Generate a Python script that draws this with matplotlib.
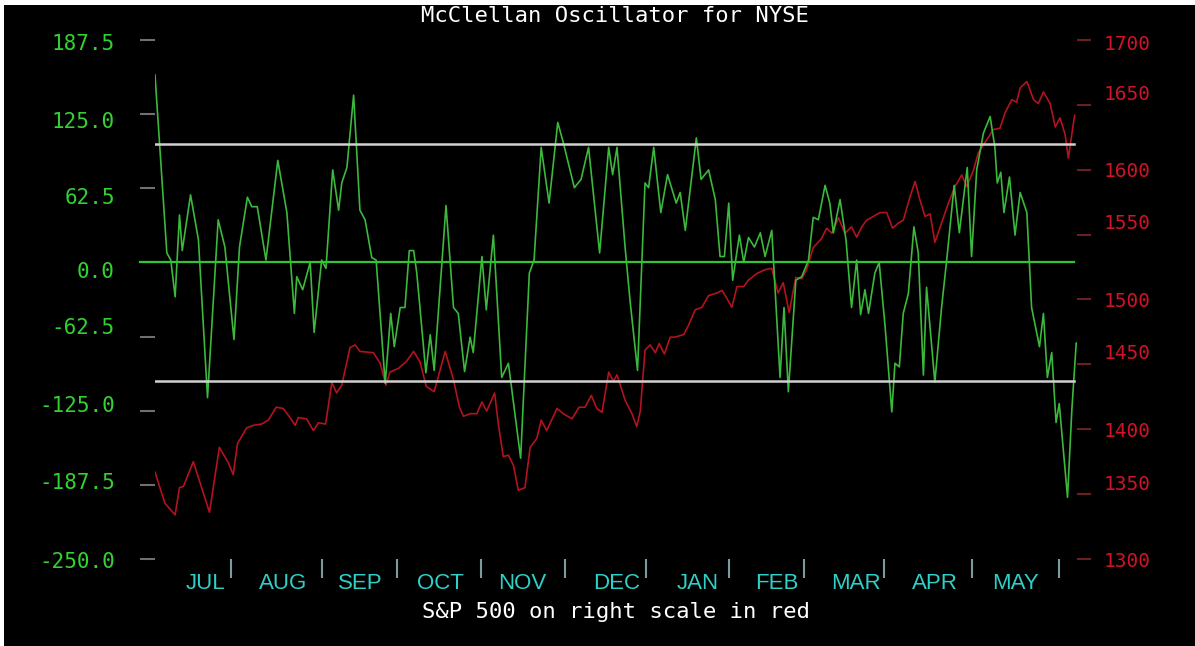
import numpy as np
import matplotlib.pyplot as plt
from matplotlib.patches import Rectangle
from matplotlib.transforms import ScaledTranslation

# x = trading session counted from the first one shown (early July 2012)
osc_day = [0, 3.0, 4.0, 5.1, 6.2, 6.9, 9.0, 11.0, 13.3, 16.0,
           17.7, 20.0, 21.4, 23.4, 24.5, 25.9, 28.1, 31.1, 33.4, 35.3,
           35.9, 37.4, 39.3, 40.3, 42.2, 43.3, 45.0, 46.5, 47.3, 48.6,
           50.3, 51.9, 53.2, 54.9, 56.0, 58.3, 59.7, 60.6, 62.1, 63.3,
           64.4, 65.5, 66.3, 68.6, 69.7, 70.7, 73.7, 75.6, 76.8, 78.4,
           79.8, 80.6, 82.8, 83.9, 85.7, 87.8, 89.5, 92.6, 94.8, 96.0,
           97.8, 99.8, 102.0, 103.4, 106.2, 107.9, 109.8, 112.6, 114.9, 115.9,
           117.0, 119.1, 120.3, 122.2, 124.1, 125.0, 126.3, 128.1, 129.8, 132.0,
           133.0, 134.3, 137.1, 138.3, 140.2, 141.9, 143.1, 144.2, 145.3, 146.3,
           148.0, 149.1, 150.3, 151.8, 153.3, 154.5, 156.2, 158.3, 159.3, 160.4,
           162.3, 163.8, 165.5, 166.7, 168.0, 169.7, 170.9, 171.8, 173.5, 175.0,
           176.4, 177.7, 178.7, 179.8, 180.7, 182.3, 183.4, 184.9, 186.6, 187.4,
           188.5, 189.5, 190.8, 192.2, 193.3, 194.6, 195.4, 197.5, 199.2, 200.5,
           202.4, 203.7, 205.7, 206.8, 208.1, 209.8, 211.5, 212.7, 213.3, 214.2,
           215.0, 216.4, 217.8, 219.1, 220.8, 222.0, 224.0, 225.0, 226.0, 227.1,
           228.2, 229.0, 231.1, 232.2, 233.3]
osc_val = [158, 8, 2, -29, 40, 10, 57, 19, -114, 36,
           13, -65, 13, 55, 47, 47, 2, 86, 42, -43,
           -12, -23, 0, -59, 2, -5, 78, 44, 67, 80,
           141, 44, 36, 4, 2, -102, -43, -71, -38, -38,
           10, 10, -9, -93, -61, -91, 48, -38, -43, -92,
           -63, -76, 5, -40, 23, -97, -85, -165, -9, 2,
           97, 50, 118, 101, 63, 70, 97, 8, 97, 74,
           97, 11, -32, -91, 67, 63, 97, 42, 74, 50,
           59, 27, 105, 70, 78, 53, 5, 5, 50, -15,
           23, 0, 21, 13, 25, 5, 27, -97, -38, -109,
           -15, -12, 2, 38, 36, 65, 50, 25, 53, 19,
           -38, 2, -44, -23, -43, -9, 0, -54, -126, -85,
           -88, -43, -26, 30, 8, -95, -21, -101, -38, 2,
           65, 25, 80, 5, 78, 109, 123, 97, 67, 76,
           42, 72, 23, 59, 42, -38, -71, -43, -97, -76,
           -135, -119, -198, -124, -68]

spx_day = [0, 2.5, 5.1, 6.2, 7.2, 9.7, 11.8, 13.8, 16.3, 18.6,
           19.8, 20.9, 23.2, 24.9, 27.0, 28.7, 30.7, 32.5, 34.2, 35.5,
           36.3, 38.4, 40.1, 41.4, 43.2, 44.8, 46.0, 47.3, 49.4, 50.7,
           51.9, 55.3, 57.0, 58.5, 59.5, 61.7, 63.6, 65.5, 67.1, 68.7,
           70.7, 73.5, 75.6, 77.1, 78.1, 79.8, 81.5, 82.8, 84.0, 86.0,
           87.0, 88.2, 89.5, 90.8, 92.0, 93.7, 95.0, 96.7, 97.8, 99.2,
           101.8, 103.4, 105.6, 107.4, 108.9, 110.5, 111.9, 113.2, 114.9, 116.1,
           117.0, 119.1, 120.8, 122.0, 122.9, 124.1, 125.4, 126.7, 127.7, 129.0,
           130.5, 131.7, 133.9, 135.1, 136.8, 138.5, 140.2, 142.3, 143.6, 144.8,
           146.1, 147.4, 149.1, 150.3, 152.4, 154.5, 156.2, 157.8, 159.1, 160.6,
           162.3, 163.8, 165.0, 166.7, 168.8, 170.1, 171.4, 173.1, 174.7, 176.4,
           177.7, 179.0, 180.2, 181.9, 183.6, 185.3, 186.8, 188.3, 189.5, 191.2,
           192.5, 193.7, 195.0, 196.3, 197.5, 199.2, 200.9, 202.6, 204.3, 205.6,
           207.3, 208.5, 210.6, 212.3, 214.0, 215.3, 217.0, 218.2, 219.1, 220.8,
           222.5, 223.7, 225.0, 226.7, 228.0, 229.2, 230.5, 231.3, 232.9]
spx_val = [1367, 1343, 1334, 1355, 1356, 1375, 1355, 1336, 1386, 1374,
           1365, 1389, 1401, 1403, 1404, 1407, 1417, 1416, 1409, 1403,
           1409, 1408, 1399, 1405, 1404, 1436, 1428, 1434, 1463, 1465,
           1460, 1459, 1451, 1434, 1444, 1447, 1452, 1460, 1452, 1433,
           1429, 1460, 1438, 1417, 1410, 1412, 1412, 1421, 1414, 1428,
           1403, 1379, 1380, 1372, 1353, 1355, 1386, 1393, 1407, 1399,
           1416, 1412, 1408, 1417, 1417, 1426, 1416, 1413, 1444, 1437,
           1442, 1422, 1412, 1402, 1414, 1461, 1465, 1459, 1466, 1458,
           1471, 1471, 1473, 1480, 1492, 1494, 1503, 1505, 1507, 1501,
           1494, 1510, 1510, 1515, 1520, 1523, 1524, 1505, 1513, 1490,
           1517, 1516, 1523, 1540, 1547, 1555, 1551, 1563, 1551, 1556,
           1548, 1556, 1561, 1564, 1567, 1567, 1555, 1559, 1561, 1579,
           1591, 1577, 1564, 1566, 1544, 1559, 1574, 1587, 1596, 1587,
           1600, 1613, 1623, 1631, 1632, 1644, 1654, 1652, 1663, 1668,
           1654, 1651, 1660, 1651, 1633, 1640, 1627, 1609, 1642]

months = ['JUL', 'AUG', 'SEP', 'OCT', 'NOV', 'DEC', 'JAN', 'FEB', 'MAR', 'APR', 'MAY']
month_edges = [19.3, 42.3, 61.3, 82.6, 103.9, 124.4, 145.4, 164.4, 184.6, 206.9, 229.0]
month_mid = [12.7, 32.4, 51.9, 72.2, 93.0, 117.0, 137.5, 157.5, 177.6, 197.6, 217.8]

osc_ticks = [-250.0, -187.5, -125.0, -62.5, 0.0, 62.5, 125.0, 187.5]
spx_ticks = [1300, 1350, 1400, 1450, 1500, 1550, 1600, 1650, 1700]
band = [100, -100]

# the old chart prints some labels a few pixels off their tick marks
osc_label_shift = [1, -4, -7, -11, 8, 8, 6, 2]
spx_label_shift = [1, -12, 0, -13, 0, -13, 0, -12, 2]

W, H = 1195, 646
fig = plt.figure(figsize=(W / 100, H / 100), dpi=100, facecolor='white')
fig.patches.append(Rectangle((4 / W, 0), 1, 1 - 5 / H, transform=fig.transFigure,
                             facecolor='black', edgecolor='none', zorder=-10))

ax = fig.add_axes([155 / W, 1 - 559 / H, 922 / W, 519 / H])
ax2 = ax.twinx()
ax.set_zorder(ax2.get_zorder() + 1)
for a in (ax, ax2):
    a.patch.set_visible(False)
    for s in a.spines.values():
        s.set_visible(False)

ax2.plot(spx_day, spx_val, color='#b3121f', lw=1.2)
ax.plot(osc_day, osc_val, color='#3cb83c', lw=1.2, zorder=3)

for lvl in band:
    ax.axhline(lvl, xmin=0, xmax=0.997, color='#d0d0d0', lw=1.8, zorder=5)
ax.axhline(0, xmin=-0.016, xmax=0.997, color='#33c433', lw=1.6, zorder=5, clip_on=False)

ax.set_xlim(0, 233.5)
ax.set_ylim(-250, 187.5)
ax2.set_ylim(1300, 1700)

mono = 'DejaVu Sans Mono'
ax.set_yticks(osc_ticks)
ax.set_yticklabels([f'{v:.1f}' for v in osc_ticks], family=mono, fontsize=15, color='#33d133')
ax.tick_params(axis='y', length=11, width=1.5, color='#707070', pad=18)
ax2.set_yticks(spx_ticks)
ax2.set_yticklabels([str(v) for v in spx_ticks], family=mono, fontsize=14, color='#d01426')
ax2.tick_params(axis='y', length=10, width=1.5, color='#6a2020', pad=9)

for lab, s in zip(ax.get_yticklabels(), osc_label_shift):
    lab.set_transform(lab.get_transform() + ScaledTranslation(0, -s / 100, fig.dpi_scale_trans))
for lab, s in zip(ax2.get_yticklabels(), spx_label_shift):
    lab.set_transform(lab.get_transform() + ScaledTranslation(0, -s / 100, fig.dpi_scale_trans))

ax.set_xticks(month_edges)
ax.set_xticklabels([])
ax.tick_params(axis='x', which='major', length=14, width=1.5, color='#7a9c9c')
ax.set_xticks(month_mid, minor=True)
ax.set_xticklabels(months, minor=True, family='Liberation Sans', fontsize=16, color='#2fd0c8')
ax.tick_params(axis='x', which='minor', length=0, pad=10)
ax2.tick_params(axis='x', which='both', bottom=False, labelbottom=False)

fig.text(615 / W, 1 - 16 / H, 'McClellan Oscillator for NYSE', family=mono,
         fontsize=16, color='white', ha='center', va='center')
fig.text(616 / W, 1 - 612 / H, 'S&P 500 on right scale in red', family=mono,
         fontsize=16, color='white', ha='center', va='center')

fig.savefig('out.png', dpi=100, facecolor=fig.get_facecolor())
